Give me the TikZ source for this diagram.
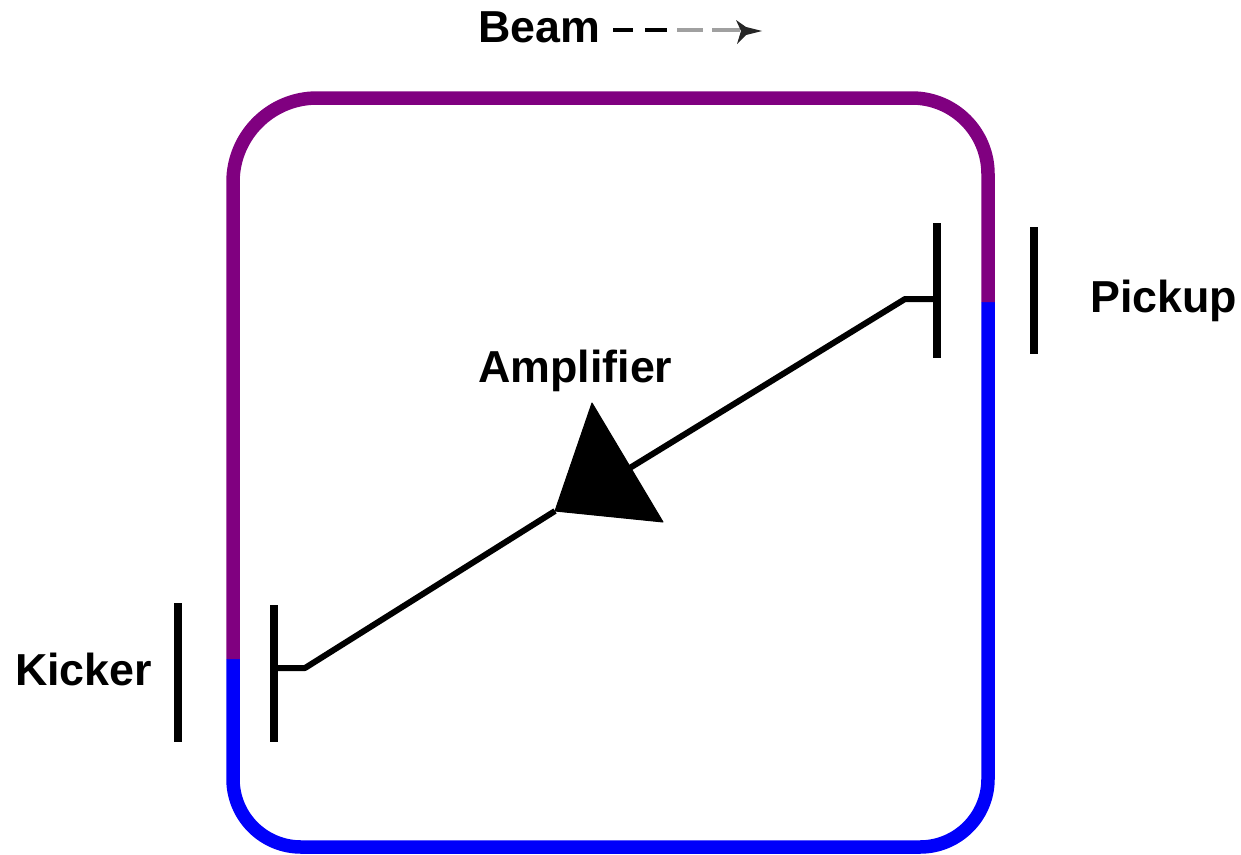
\documentclass[tikz,border=0pt]{standalone}
\usepackage{fontspec}
\setmainfont{Liberation Sans}
\usetikzlibrary{arrows.meta,positioning,calc}
\definecolor{ringpurple}{RGB}{128,0,128}
\definecolor{ringblue}{RGB}{0,0,250}
\definecolor{beamgray}{RGB}{160,160,160}

\begin{document}
\begin{tikzpicture}[x=1pt,y=-1pt,
 ring/.style={line width=13.5pt,line join=round},
 plate/.style={draw,line width=7.5pt},
 wire/.style={draw,line width=6pt,line join=round},
 lbl/.style={anchor=base west,inner sep=0pt,font=\fontsize{44.8}{48}\selectfont\bfseries},
 beamdash/.style={line width=4pt}]
\useasboundingbox (0,0) rectangle (1241,854);
\coordinate (pickupsplit) at (988,302);
\coordinate (kickersplit) at (233,659);
\coordinate (ringtop) at (600,98);
\draw[ring,ringblue,rounded corners=68pt] (kickersplit)--(233,847)--(988,847)--(pickupsplit);
\draw[ring,ringpurple,rounded corners=76pt] (pickupsplit)--(988,98)--(ringtop) [rounded corners=84pt] --(233,98)--(kickersplit);
\coordinate (pickuptop) at (937,223); \coordinate (pickupbot) at (937,358);
\coordinate (pickupouttop) at (1034,227); \coordinate (pickupoutbot) at (1034,354);
\coordinate (kickertop) at (274,605); \coordinate (kickerbot) at (274,742);
\coordinate (kickerouttop) at (178,603); \coordinate (kickeroutbot) at (178,742);
\draw[plate] (pickuptop)--(pickupbot); \draw[plate] (pickupouttop)--(pickupoutbot);
\draw[plate] (kickertop)--(kickerbot); \draw[plate] (kickerouttop)--(kickeroutbot);
\coordinate (amptop) at (592,403); \coordinate (ampright) at (663,522); \coordinate (ampleft) at (555,511);
\coordinate (ampin) at (620,474);
\coordinate (pickupjoin) at (937,299); \coordinate (pickupbend) at (905,299);
\coordinate (kickerjoin) at (274,668); \coordinate (kickerbend) at (305,668);
\fill[draw,line width=1pt,line join=round] (amptop)--(ampright)--(ampleft)--cycle;
\draw[wire] (pickupjoin)--(pickupbend)--(ampin);
\draw[wire] (kickerjoin)--(kickerbend)--(ampleft);
\node[lbl] (beam) at (478,42) {Beam};
\node[lbl] (amplifier) at (478,382) {Amplifier};
\node[lbl] (pickup) at (1090,312) {Pickup};
\node[lbl] (kicker) at (15,685) {Kicker};
\coordinate (dasha) at (613,30); \coordinate (dashb) at (633,30);
\coordinate (dashc) at (645,30); \coordinate (dashd) at (667,30);
\coordinate (dashe) at (677,30); \coordinate (dashf) at (703,30);
\coordinate (dashg) at (712,30); \coordinate (dashh) at (740,30);
\coordinate (beamtip) at (762,31);
\draw[beamdash] (dasha)--(dashb); \draw[beamdash] (dashc)--(dashd);
\draw[beamdash,beamgray] (dashe)--(dashf); \draw[beamdash,beamgray] (dashg)--(dashh);
\fill[black!85] (beamtip)--(746,27)--(736,20)--(741,31)--(737,44)--(746,35)--cycle;
\end{tikzpicture}
\end{document}
